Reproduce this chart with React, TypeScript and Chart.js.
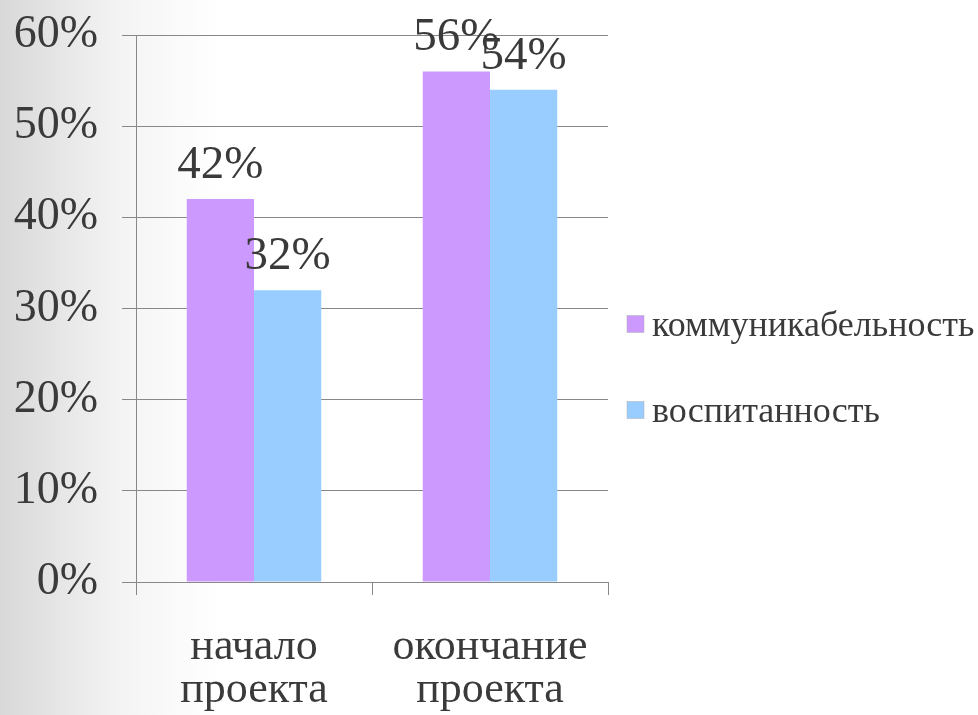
import React, { useEffect, useRef } from "react";
import { Chart, registerables } from "chart.js";

Chart.register(...registerables);

const categories: string[][] = [["начало", "проекта"], ["окончание", "проекта"]];
const seriesNames: string[] = ["коммуникабельность", "воспитанность"];
const communicability: number[] = [42, 56];
const upbringing: number[] = [32, 54];
const yTicks: number[] = [0, 10, 20, 30, 40, 50, 60];

const SERIF = '"Liberation Serif", "Times New Roman", serif';
const TEXT = "#3a3a3a";
const GRID = "#888888";
const COLORS = ["#cc99ff", "#99ccff"];

const valueLabels = {
  id: "valueLabels",
  afterDatasetsDraw(chart: any) {
    const ctx = chart.ctx;
    ctx.save();
    ctx.font = `47px ${SERIF}`;
    ctx.fillStyle = TEXT;
    ctx.textAlign = "center";
    ctx.textBaseline = "alphabetic";
    chart.data.datasets.forEach((ds: any, i: number) => {
      const meta = chart.getDatasetMeta(i);
      meta.data.forEach((el: any, j: number) => {
        ctx.fillText(`${ds.data[j]}%`, el.x, el.y - 21);
      });
    });
    ctx.restore();
  },
};

const sideLegend = {
  id: "sideLegend",
  afterDraw(chart: any) {
    const ctx = chart.ctx;
    const x0 = chart.chartArea.right + 19;
    const mid = chart.height / 2 + 10;
    const gap = 86;
    ctx.save();
    ctx.font = `36px ${SERIF}`;
    ctx.textAlign = "left";
    ctx.textBaseline = "alphabetic";
    chart.data.datasets.forEach((ds: any, i: number) => {
      const cy = mid + (i - 0.5) * gap;
      ctx.fillStyle = ds.backgroundColor;
      ctx.fillRect(x0, cy - 9, 17, 17);
      ctx.strokeStyle = "#b0b0b0";
      ctx.lineWidth = 0.5;
      ctx.strokeRect(x0, cy - 9, 17, 17);
      ctx.fillStyle = TEXT;
      ctx.fillText(ds.label, x0 + 25, cy + 11);
    });
    ctx.restore();
  },
};

export default function App() {
  const ref = useRef<HTMLCanvasElement | null>(null);
  useEffect(() => {
    if (!ref.current) return;
    const chart = new Chart(ref.current, {
      type: "bar",
      data: {
        labels: categories,
        datasets: [
          { label: seriesNames[0], data: communicability, backgroundColor: COLORS[0] },
          { label: seriesNames[1], data: upbringing, backgroundColor: COLORS[1] },
        ],
      },
      options: {
        animation: false,
        responsive: true,
        maintainAspectRatio: false,
        layout: { padding: { left: 14, right: 370, top: 35, bottom: 0 } },
        datasets: {
          bar: { categoryPercentage: 0.57, barPercentage: 1.0 },
        },
        plugins: {
          legend: { display: false },
          tooltip: { enabled: false },
        },
        scales: {
          x: {
            afterFit: (axis: any) => {
              axis.height = 133;
              axis.paddingLeft = 0;
              axis.paddingRight = 0;
            },
            grid: {
              display: true,
              drawOnChartArea: false,
              drawTicks: true,
              tickLength: 13,
              color: GRID,
              offset: true,
            },
            border: { display: true, color: GRID, width: 1 },
            ticks: {
              color: TEXT,
              font: { family: SERIF, size: 44, lineHeight: 0.98 },
              padding: 31,
              maxRotation: 0,
            },
          },
          y: {
            min: 0,
            max: 60,
            afterFit: (axis: any) => {
              axis.width = 122;
              axis.paddingTop = 0;
              axis.paddingBottom = 0;
            },
            afterBuildTicks: (axis: any) => {
              axis.ticks = yTicks.map((v) => ({ value: v }));
            },
            grid: {
              color: GRID,
              tickLength: 14,
              drawTicks: true,
            },
            border: { display: true, color: GRID, width: 1 },
            ticks: {
              color: TEXT,
              font: { family: SERIF, size: 46 },
              padding: 24,
              callback: (v: any) => `${v}%`,
            },
          },
        },
      },
      plugins: [valueLabels, sideLegend],
    });
    return () => chart.destroy();
  }, []);

  return (
    <div
      style={{
        position: "absolute",
        left: 0,
        top: 0,
        width: 978,
        height: 715,
        background: "linear-gradient(to right, #d8d8d8 0px, #f4f4f4 120px, #ffffff 220px)",
      }}
    >
      <canvas ref={ref} />
    </div>
  );
}
